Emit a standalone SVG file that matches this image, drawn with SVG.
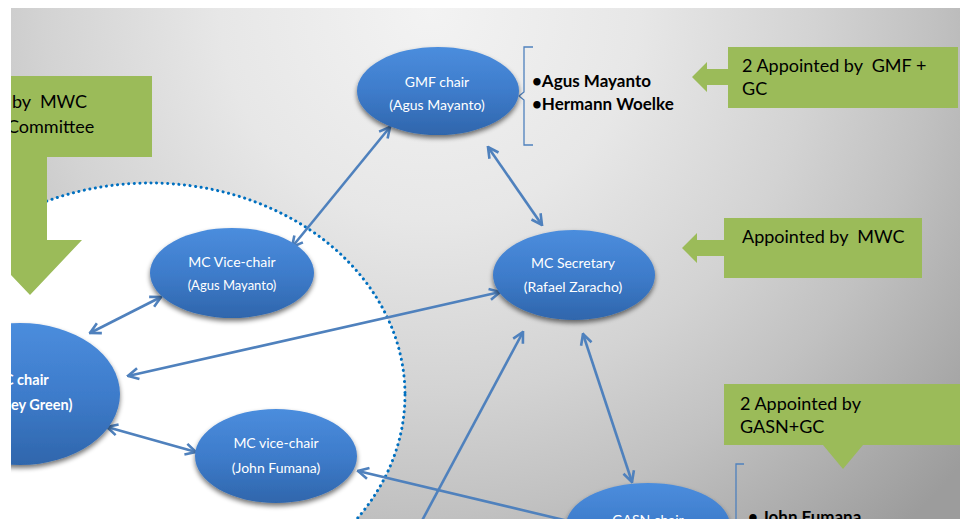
<svg xmlns="http://www.w3.org/2000/svg" width="960" height="519" viewBox="0 0 960 519">
  <defs>
    <radialGradient id="bg" gradientUnits="userSpaceOnUse" cx="430" cy="10" r="700">
      <stop offset="0" stop-color="#f3f3f3"/>
      <stop offset="0.3" stop-color="#e7e7e7"/>
      <stop offset="0.55" stop-color="#d3d3d3"/>
      <stop offset="0.72" stop-color="#c1c1c1"/>
      <stop offset="1" stop-color="#9c9c9c"/>
    </radialGradient>
    <linearGradient id="blob" x1="0" y1="0" x2="0" y2="1">
      <stop offset="0" stop-color="#4b8ddd"/>
      <stop offset="0.5" stop-color="#3e7ccb"/>
      <stop offset="1" stop-color="#2f66ac"/>
    </linearGradient>
    <filter id="shade" x="-20%" y="-20%" width="140%" height="150%">
      <feGaussianBlur in="SourceAlpha" stdDeviation="2.5"/>
      <feOffset dy="3" result="b"/>
      <feComponentTransfer><feFuncA type="linear" slope="0.55"/></feComponentTransfer>
      <feMerge><feMergeNode/><feMergeNode in="SourceGraphic"/></feMerge>
    </filter>
    <marker id="ah" viewBox="0 0 14 14" refX="12.5" refY="7" markerWidth="14" markerHeight="14" markerUnits="userSpaceOnUse" orient="auto-start-reverse">
      <path d="M2,1.5 L12.5,7 L2,12.5" fill="none" stroke="#4f81bd" stroke-width="2.6" stroke-linejoin="miter"/>
    </marker>
    <clipPath id="area">
      <rect x="11" y="8" width="949" height="511"/>
    </clipPath>
    <style>
      .node ellipse { fill: url(#blob); filter: url(#shade); }
      .nt { font-family: Lato, "Liberation Sans", sans-serif; font-size: 14px; fill: #ffffff; text-anchor: middle; }
      .nb { font-family: Lato, "Liberation Sans", sans-serif; font-size: 14.5px; font-weight: bold; fill: #ffffff; }
      .conn line { stroke: #4f81bd; stroke-width: 2.6; fill: none; }
      .callout path { fill: #9bbb59; }
      .ct { font-family: Lato, "Liberation Sans", sans-serif; font-size: 18px; fill: #000000; white-space: pre; }
      .brace { fill: none; stroke: #4f81bd; stroke-width: 1.3; }
      .bl { font-family: Lato, "Liberation Sans", sans-serif; font-size: 17px; font-weight: bold; fill: #000000; white-space: pre; }
    </style>
  </defs>

  <rect width="960" height="519" fill="#ffffff"/>
  <g clip-path="url(#area)">
    <rect x="0" y="0" width="960" height="519" fill="url(#bg)"/>

    <!-- management committee zone -->
    <ellipse id="mc-zone" cx="150" cy="395" rx="255" ry="212" fill="#ffffff" stroke="#0070c0" stroke-width="3" stroke-dasharray="0.1 5.5" stroke-linecap="round"/>

    <!-- callouts -->
    <g id="callout-mwc-committee" class="callout">
      <path d="M0,76 H152 V157 H47 V240 H82 L30,295 L-22,240 H10 V157 H0 Z"/>
      <text class="ct" x="12" y="108">by  MWC</text>
      <text class="ct" x="7" y="133">Committee</text>
    </g>
    <g id="callout-gmf" class="callout">
      <path d="M728,47 H958 V108 H728 V85 H707 V92 L692,77 L707,62 V69 H728 Z"/>
      <text class="ct" x="742" y="72">2 Appointed by  GMF +</text>
      <text class="ct" x="742" y="95">GC</text>
    </g>
    <g id="callout-mwc" class="callout">
      <path d="M724,218 H922 V278 H724 V256 H697 V263 L682,248 L697,233 V240 H724 Z"/>
      <text class="ct" x="742" y="243">Appointed by  MWC</text>
    </g>
    <g id="callout-gasn" class="callout">
      <path d="M724,384 H962 V445 H863 L843,469 L823,445 H724 Z"/>
      <text class="ct" x="740" y="410">2 Appointed by</text>
      <text class="ct" x="740" y="433">GASN+GC</text>
    </g>

    <!-- member lists -->
    <g id="list-gmf">
      <path class="brace" d="M533,47 H524 V92 L519,96 L524,100 V145 H533"/>
      <text class="bl" x="532" y="87">•Agus Mayanto</text>
      <text class="bl" x="532" y="110">•Hermann Woelke</text>
    </g>
    <g id="list-gasn">
      <path class="brace" d="M744,464 H736 V530"/>
      <text class="bl" x="748" y="523">• John Fumana</text>
    </g>

    <!-- connectors -->
    <g id="connectors" class="conn">
      <line x1="292" y1="247" x2="390" y2="127" marker-start="url(#ah)" marker-end="url(#ah)"/>
      <line x1="488" y1="147" x2="542" y2="225" marker-start="url(#ah)" marker-end="url(#ah)"/>
      <line x1="161" y1="297" x2="90" y2="333" marker-start="url(#ah)" marker-end="url(#ah)"/>
      <line x1="500" y1="292" x2="128" y2="376" marker-start="url(#ah)" marker-end="url(#ah)"/>
      <line x1="107" y1="427" x2="196" y2="452" marker-start="url(#ah)" marker-end="url(#ah)"/>
      <line x1="583" y1="334" x2="632" y2="482" marker-start="url(#ah)" marker-end="url(#ah)"/>
      <line x1="417" y1="530" x2="523" y2="332" marker-end="url(#ah)"/>
      <line x1="358" y1="471" x2="585" y2="525" marker-start="url(#ah)"/>
    </g>

    <!-- nodes -->
    <g id="gmf-chair" class="node">
      <ellipse cx="438" cy="91" rx="81" ry="44"/>
      <text class="nt" x="437" y="87">GMF chair</text>
      <text class="nt" x="437" y="110">(Agus Mayanto)</text>
    </g>
    <g id="mc-secretary" class="node">
      <ellipse cx="574" cy="275" rx="81" ry="45"/>
      <text class="nt" x="573" y="268">MC Secretary</text>
      <text class="nt" x="573" y="292">(Rafael Zaracho)</text>
    </g>
    <g id="mc-vice-chair-1" class="node">
      <ellipse cx="232" cy="273" rx="82" ry="45"/>
      <text class="nt" x="232" y="267">MC Vice-chair</text>
      <text class="nt" x="232" y="290" style="font-size:13px">(Agus Mayanto)</text>
    </g>
    <g id="mc-chair" class="node">
      <ellipse cx="20" cy="394" rx="100" ry="71"/>
      <text class="nb" x="4" y="385">C chair</text>
      <text class="nb" x="11" y="410">ey Green)</text>
    </g>
    <g id="mc-vice-chair-2" class="node">
      <ellipse cx="276" cy="456" rx="81" ry="47"/>
      <text class="nt" x="276" y="448">MC vice-chair</text>
      <text class="nt" x="276" y="473">(John Fumana)</text>
    </g>
    <g id="gasn-chair" class="node">
      <ellipse cx="648" cy="526" rx="82" ry="43"/>
      <text class="nt" x="648" y="525">GASN chair</text>
    </g>
  </g>
</svg>
